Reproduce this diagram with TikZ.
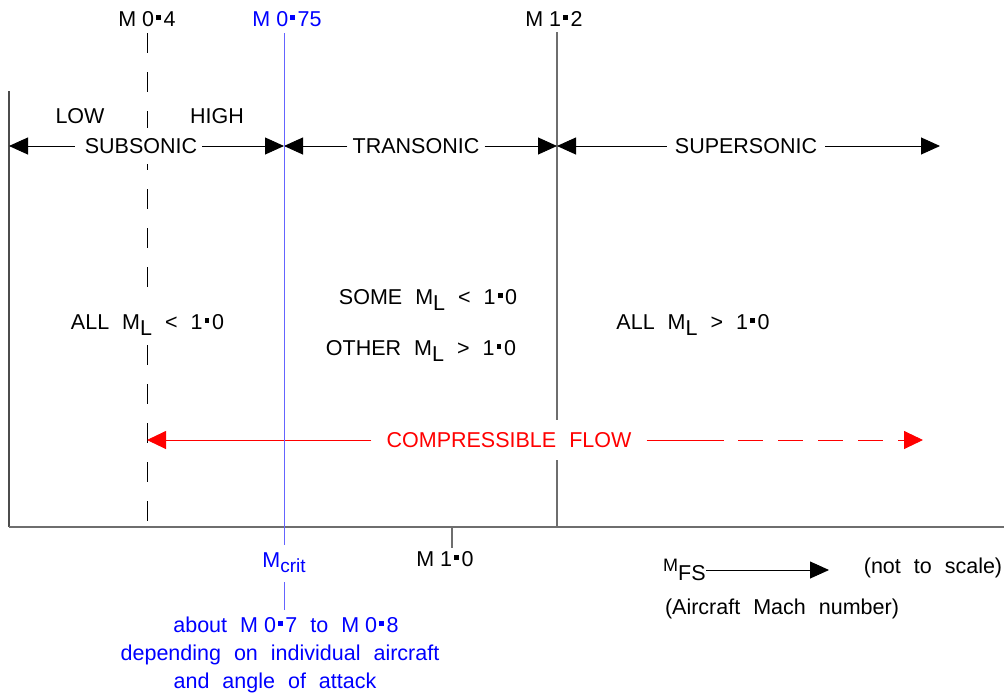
\documentclass[tikz,border=0pt]{standalone}
\usepackage{fontspec}
\setmainfont{Liberation Sans}
\usetikzlibrary{arrows.meta}
\newcommand\sd{\kern0.1em\raisebox{0.28em}{\rule{0.22em}{0.22em}}\kern0.12em}
\newcommand\ML{M\raisebox{-0.3em}{L}}
\newcommand\Msp{M\hspace{0.278em}}
\protected\def\mainfnt{\fontsize{21.5}{26}\selectfont\spaceskip 13pt\relax}
\definecolor{bline}{RGB}{100,100,255}
\definecolor{axisgray}{RGB}{110,110,110}
\begin{document}
\begin{tikzpicture}[x=1pt,y=-1pt,
  every node/.style={font=\mainfnt, inner sep=0pt},
  tip/.style={-{Triangle[length=19pt,width=17pt]}, line width=0.9pt},
  lbl/.style={fill=white, inner xsep=5pt, inner ysep=10pt}]
\useasboundingbox (0,0) rectangle (1004,694);

% axes
\coordinate (ytop) at (9,91);
\coordinate (o) at (9,527);
\coordinate (xend) at (1004,527);
\draw[black!70, line width=1.3pt] (ytop) -- (o);
\draw[axisgray, line width=1.3pt] (o) -- (xend);

% vertical markers
\coordinate (m04t) at (147,33);
\coordinate (m04b) at (147,527);
\draw[black, line width=0.9pt, dash pattern=on 20pt off 19pt] (m04t) -- (m04b);
\coordinate (m12t) at (557,32);
\coordinate (m12b) at (557,527);
\draw[axisgray, line width=1.2pt] (m12t) -- (m12b);
\coordinate (m10t) at (452,527);
\coordinate (m10b) at (452,548);
\draw[axisgray, line width=1.2pt] (m10t) -- (m10b);

% top labels
\node[anchor=base] (l04) at (147,26) {\Msp0\sd4};
\node[anchor=base, text=blue] (l075) at (287,26) {\Msp0\sd75};
\node[anchor=base] (l12) at (554,26) {\Msp1\sd2};

% regime row
\node[anchor=base] (low) at (80,123) {LOW};
\node[anchor=base] (high) at (217,123) {HIGH};
\node[lbl] (sub) at (141,146) {SUBSONIC};
\node[lbl] (tra) at (416,146) {TRANSONIC};
\node[lbl, inner xsep=8pt] (sup) at (746,146) {SUPERSONIC};

% local Mach texts
\node[lbl, anchor=base] (all1) at (147.5,329) {ALL \ML{} < 1\sd0};
\node[anchor=base] (some) at (428,304) {SOME \ML{} < 1\sd0};
\node[anchor=base] (other) at (421,355) {OTHER \ML{} > 1\sd0};
\node[anchor=base] (all2) at (693,329) {ALL \ML{} > 1\sd0};

% compressible flow
\node[lbl, text=red, inner xsep=15pt, inner ysep=12pt] (cf) at (509,440) {COMPRESSIBLE FLOW};
\coordinate (cfl) at (147,440);
\coordinate (cfm) at (724,440);
\coordinate (cfr) at (923,440);
\draw[red, -{Triangle[length=19pt,width=18pt]}, line width=0.9pt] (cf.west) -- (cfl);
\draw[red, line width=0.9pt] (cf.east) -- (cfm);
\draw[red, line width=0.9pt, dash pattern=on 25pt off 15pt, dash phase=26pt, -{Triangle[length=19pt,width=18pt]}] (cfm) -- (cfr);

% regime arrows
\coordinate (a0) at (9,146);
\coordinate (a1) at (284,146);
\coordinate (a2) at (557,146);
\coordinate (a3) at (940,146);
\draw[tip] ([xshift=-5pt]sub.west) -- (a0);
\draw[tip] (sub.east) -- (a1);
\draw[tip] (tra.west) -- (a1);
\draw[tip] (tra.east) -- (a2);
\draw[tip] (sup.west) -- (a2);
\draw[tip] (sup.east) -- (a3);

% critical Mach line
\coordinate (bl1) at (284,33);
\coordinate (bl2) at (284,545);
\coordinate (bl3) at (284,582);
\coordinate (bl4) at (284,610);
\draw[bline, line width=1pt] (bl1) -- (bl2);
\draw[bline, line width=1pt] (bl3) -- (bl4);

% bottom labels
\node[anchor=base, text=blue] (mcrit) at (284,567) {M\raisebox{-5pt}{\fontsize{19}{19}\selectfont crit}};
\node[anchor=base] (m10) at (445,566) {\Msp1\sd0};
\node[anchor=base, text=blue] (ab1) at (286,632) {about \Msp0\sd7 to \Msp0\sd8};
\node[anchor=base, text=blue] (ab2) at (280,660) {depending on individual aircraft};
\node[anchor=base, text=blue] (ab3) at (275,688) {and angle of attack};

% free stream Mach
\node[anchor=base west] (mfs) at (663,571) {{\fontsize{18}{18}\selectfont M}\raisebox{-9pt}{FS}};
\coordinate (mfst) at (829,570);
\draw[tip] (mfs.east |- mfst) -- (mfst);
\node[anchor=base] (nts) at (933,573) {(not to scale)};
\node[anchor=base] (acm) at (782,614) {(Aircraft Mach number)};
\end{tikzpicture}
\end{document}
